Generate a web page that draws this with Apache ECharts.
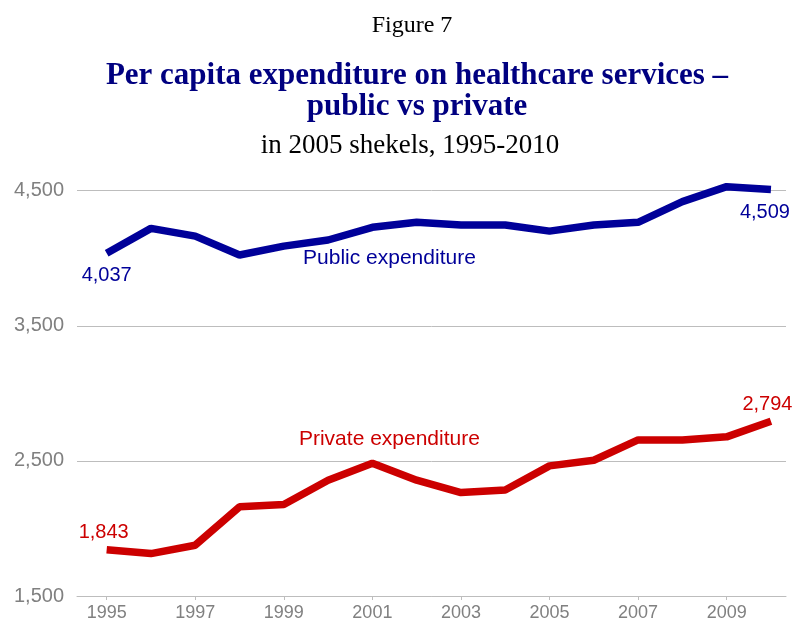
<!DOCTYPE html>
<html>
<head>
<meta charset="utf-8">
<script src="https://cdn.jsdelivr.net/npm/echarts@6/dist/echarts.min.js"></script>
<style>
  html, body { margin: 0; padding: 0; background: #fff; }
  #chart { width: 796px; height: 625px; }
</style>
</head>
<body>
<div id="chart"></div>
<script>
// Per capita healthcare expenditure, 2005 shekels
const years = [1995, 1996, 1997, 1998, 1999, 2000, 2001, 2002, 2003, 2004, 2005, 2006, 2007, 2008, 2009, 2010];
const publicValues  = [4037, 4221, 4164, 4024, 4090, 4135, 4229, 4266, 4246, 4246, 4201, 4246, 4266, 4419, 4530, 4509];
const privateValues = [1843, 1814, 1876, 2160, 2177, 2357, 2483, 2357, 2266, 2285, 2463, 2505, 2655, 2655, 2678, 2794];
const yearTicks = [1995, 1997, 1999, 2001, 2003, 2005, 2007, 2009];

const PUBLIC_COLOR = '#000099';
const PRIVATE_COLOR = '#CC0000';
const AXIS_GREY = '#808080';
const GRID_GREY = '#BDBDBD';

const fmt = v => v.toLocaleString('en-US');

function buildSeriesData(values, firstLabel, lastLabel) {
  return values.map((v, i) => {
    const item = { value: [years[i], v] };
    if (i === 0) item.label = Object.assign({ show: true }, firstLabel);
    if (i === values.length - 1) item.label = Object.assign({ show: true }, lastLabel);
    return item;
  });
}

function nameTag(text, color, coord) {
  return {
    silent: true,
    symbol: 'circle', symbolSize: 0,
    label: {
      show: true, position: 'inside', formatter: '{b}',
      color: color, fontFamily: 'Liberation Sans', fontSize: 21
    },
    data: [{ name: text, coord: coord }]
  };
}

const chart = echarts.init(document.getElementById('chart'), null, { renderer: 'canvas' });

chart.setOption({
  animation: false,
  backgroundColor: '#ffffff',
  title: [
    {
      text: 'Figure 7',
      left: 407, top: 9, textAlign: 'center',
      textStyle: { fontFamily: 'Liberation Serif', fontWeight: 'normal', fontSize: 24, color: '#000' }
    },
    {
      text: 'Per capita expenditure on healthcare services –\npublic vs private',
      left: 412, top: 55, textAlign: 'center',
      textStyle: { fontFamily: 'Liberation Serif', fontWeight: 'bold', fontSize: 31, lineHeight: 31, color: '#000080' }
    },
    {
      text: 'in 2005 shekels, 1995-2010',
      left: 405, top: 127, textAlign: 'center',
      textStyle: { fontFamily: 'Liberation Serif', fontWeight: 'normal', fontSize: 27, color: '#000' }
    }
  ],
  grid: { left: 77, right: 10, top: 190.7, bottom: 29, containLabel: false },
  xAxis: {
    type: 'value',
    min: 1994.33,
    max: 2010.34,
    splitLine: { show: false },
    axisLine: { show: true, lineStyle: { color: GRID_GREY, width: 1 } },
    axisTick: { show: true, customValues: yearTicks, length: 4, lineStyle: { color: GRID_GREY } },
    axisLabel: {
      customValues: yearTicks,
      formatter: v => String(v),
      margin: 8,
      color: AXIS_GREY,
      fontFamily: 'Liberation Sans',
      fontSize: 18
    }
  },
  yAxis: {
    type: 'value',
    min: 1500,
    max: 4500,
    interval: 1000,
    axisLine: { show: false },
    axisTick: { show: false },
    splitLine: { show: true, lineStyle: { color: GRID_GREY, width: 1 } },
    axisLabel: {
      formatter: v => fmt(v),
      margin: 13,
      color: AXIS_GREY,
      fontFamily: 'Liberation Sans',
      fontSize: 20
    }
  },
  series: [
    {
      name: 'Public expenditure',
      type: 'line',
      clip: false,
      symbol: 'circle',
      symbolSize: 0.01,
      showSymbol: true,
      lineStyle: { color: PUBLIC_COLOR, width: 7.5, cap: 'butt' },
      itemStyle: { color: PUBLIC_COLOR },
      label: {
        color: PUBLIC_COLOR, fontFamily: 'Liberation Sans', fontSize: 20,
        formatter: p => fmt(p.value[1])
      },
      data: buildSeriesData(publicValues,
        { position: 'bottom', distance: 12, offset: [0, 0] },
        { position: 'bottom', distance: 13, offset: [-6, 0] }),
      markPoint: nameTag('Public expenditure', PUBLIC_COLOR, [2001.385, 4002])
    },
    {
      name: 'Private expenditure',
      type: 'line',
      clip: false,
      symbol: 'circle',
      symbolSize: 0.01,
      showSymbol: true,
      lineStyle: { color: PRIVATE_COLOR, width: 7.5, cap: 'butt' },
      itemStyle: { color: PRIVATE_COLOR },
      label: {
        color: PRIVATE_COLOR, fontFamily: 'Liberation Sans', fontSize: 20,
        formatter: p => fmt(p.value[1])
      },
      data: buildSeriesData(privateValues,
        { position: 'top', distance: 7, offset: [-3, 0] },
        { position: 'top', distance: 7, offset: [-3.5, 0] }),
      markPoint: nameTag('Private expenditure', PRIVATE_COLOR, [2001.385, 2662])
    }
  ]
});
</script>
</body>
</html>
